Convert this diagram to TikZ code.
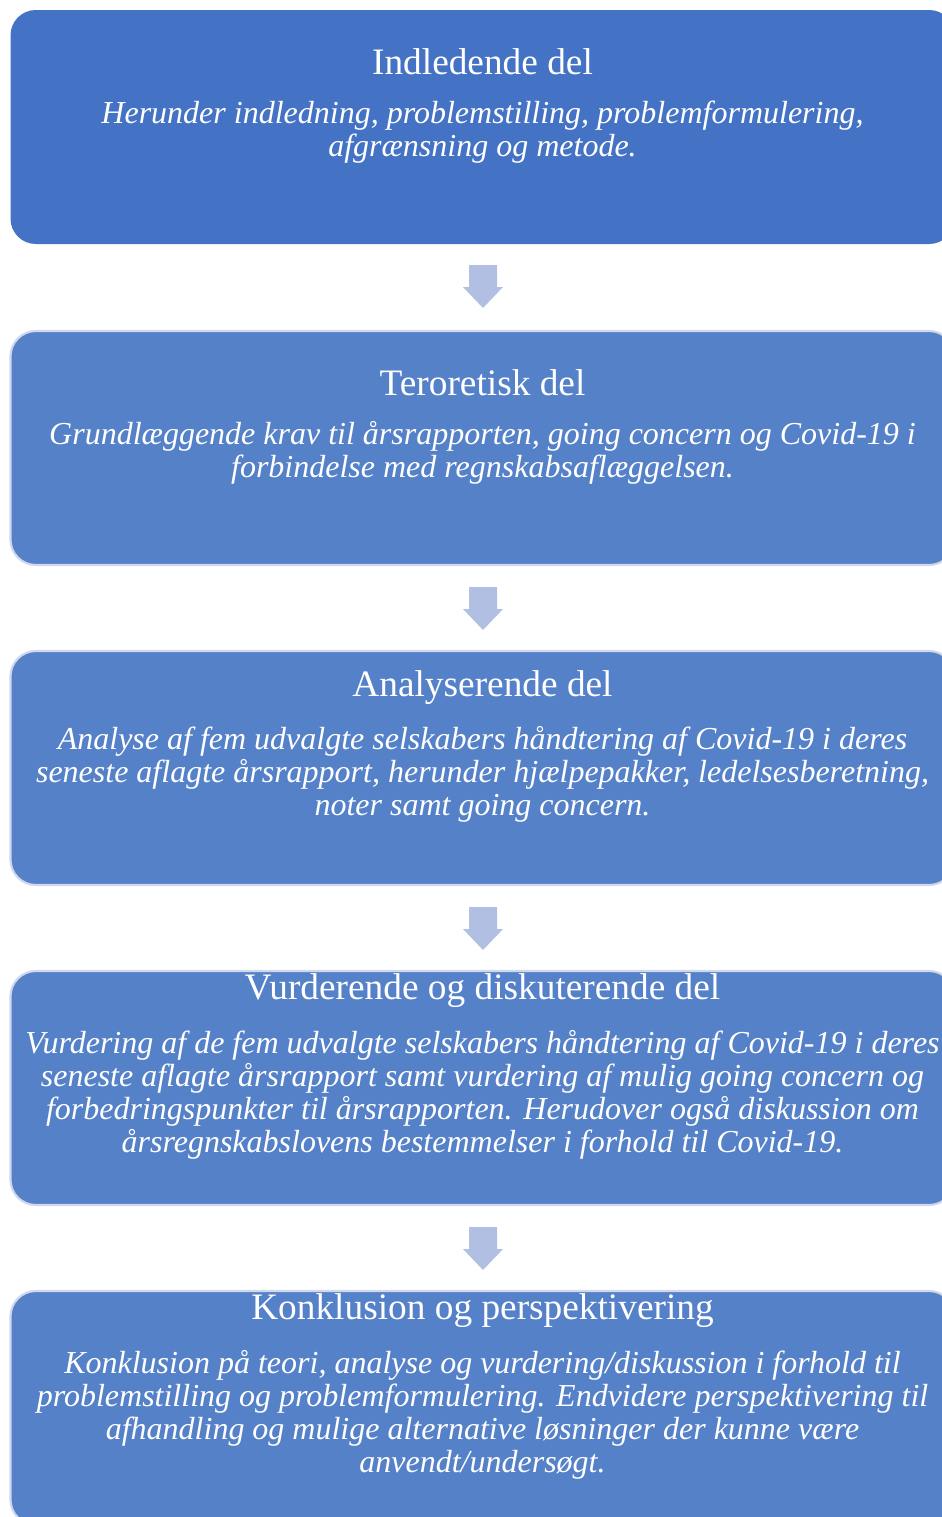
\documentclass[tikz,border=0pt]{standalone}
\usepackage{fontspec}
\setmainfont{Liberation Serif}
\definecolor{boxa}{HTML}{4472C4}
\definecolor{boxb}{HTML}{5581C9}
\definecolor{boxedge}{HTML}{D0D8ED}
\definecolor{arrowc}{HTML}{B0BFE2}
\tikzset{
  firstbox/.style={rectangle, rounded corners=19pt, fill=boxa, draw=none, minimum width=708pt, minimum height=175.5pt, inner sep=0pt},
  otherbox/.style={rectangle, rounded corners=19pt, fill=boxb, draw=boxedge, line width=1.6pt, minimum width=708pt, minimum height=175.5pt, inner sep=0pt},
  title/.style={text=white, font=\fontsize{28}{33}\selectfont, inner sep=0pt, anchor=center},
  body/.style={text=white, font=\fontsize{24}{24.75}\selectfont\itshape, align=center, inner sep=0pt, anchor=north},
  downarr/.pic={\fill[arrowc] (-14,0) -- (14,0) -- (14,22) -- (20,22) -- (0,43) -- (-20,22) -- (-14,22) -- cycle;}
}
\begin{document}
\begin{tikzpicture}[x=0.75pt,y=-0.75pt]
\useasboundingbox (0,0) rectangle (942,1517);
\clip (0,0) rectangle (942,1517);
\fill[white] (0,0) rectangle (942,1517);
% boxes
\node[firstbox] (b1) at (482.5,127) {};
\node[otherbox] (b2) at (482.5,448) {};
\node[otherbox] (b3) at (482.5,768) {};
\node[otherbox] (b4) at (482.5,1088) {};
\node[otherbox] (b5) at (482.5,1408) {};
% arrows
\pic at (483,265) {downarr};
\pic at (483,587) {downarr};
\pic at (483,907) {downarr};
\pic at (483,1227) {downarr};
% texts
\node[title] (t1) at (482.5,62) {Indledende del};
\node[body] (d1) at (482.5,101) {Herunder indledning, problemstilling, problemformulering,\\afgrænsning og metode.};
\node[title] (t2) at (482.5,383) {Teroretisk del};
\node[body] (d2) at (482.5,421) {Grundlæggende krav til årsrapporten, going concern og Covid-19 i\\forbindelse med regnskabsaflæggelsen.};
\node[title] (t3) at (482.5,688) {Analyserende del};
\node[body] (d3) at (482.5,726) {Analyse af fem udvalgte selskabers håndtering af Covid-19 i deres\\seneste aflagte årsrapport, herunder hjælpepakker, ledelsesberetning,\\noter samt going concern.};
\node[title] (t4) at (482.5,991) {Vurderende og diskuterende del};
\node[body] (d4) at (482.5,1030) {Vurdering af de fem udvalgte selskabers håndtering af Covid-19 i deres\\seneste aflagte årsrapport samt vurdering af mulig going concern og\\forbedringspunkter til årsrapporten. Herudover også diskussion om\\årsregnskabslovens bestemmelser i forhold til Covid-19.};
\node[title] (t5) at (482.5,1311) {Konklusion og perspektivering};
\node[body] (d5) at (482.5,1350) {Konklusion på teori, analyse og vurdering/diskussion i forhold til\\problemstilling og problemformulering. Endvidere perspektivering til\\afhandling og mulige alternative løsninger der kunne være\\anvendt/undersøgt.};
\end{tikzpicture}
\end{document}
